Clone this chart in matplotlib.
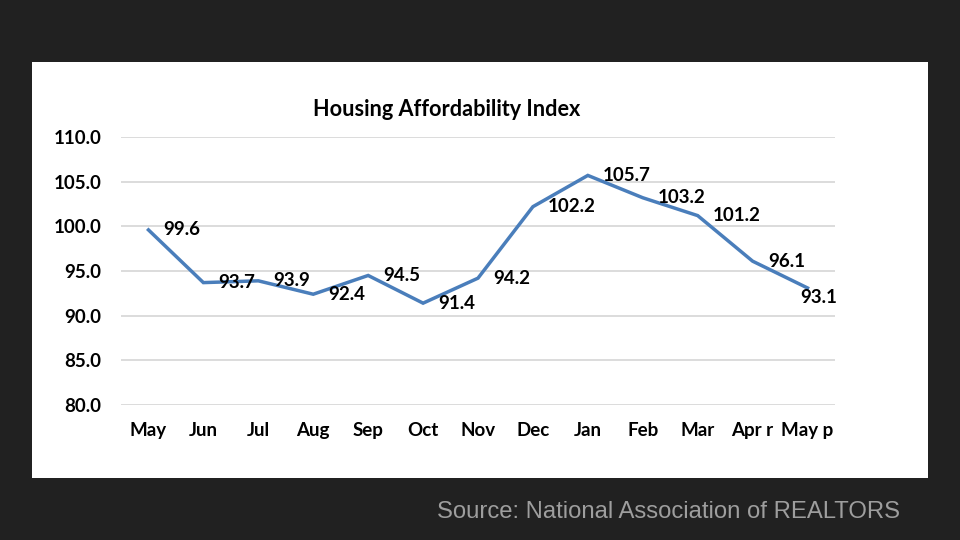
import matplotlib
matplotlib.use("Agg")
import matplotlib.pyplot as plt
from matplotlib.patches import Rectangle

months = ["May", "Jun", "Jul", "Aug", "Sep", "Oct", "Nov", "Dec", "Jan", "Feb", "Mar", "Apr r", "May p"]
index_values = [99.6, 93.7, 93.9, 92.4, 94.5, 91.4, 94.2, 102.2, 105.7, 103.2, 101.2, 96.1, 93.1]
y_ticks = [80, 85, 90, 95, 100, 105, 110]
title = "Housing Affordability Index"
source = "Source: National Association of REALTORS"

FONT = ["Lato", "DejaVu Sans"]
FS = 13.5

fig = plt.figure(figsize=(9.6, 5.4), dpi=100)
fig.patch.set_facecolor("#212121")
# white panel
fig.patches.append(Rectangle((32 / 960, 1 - 478 / 540), (928 - 32) / 960, (478 - 62) / 540,
                             transform=fig.transFigure, facecolor="white", edgecolor="none", zorder=-10))

ax = fig.add_axes([121 / 960, 1 - 405 / 540, (835 - 121) / 960, (405 - 137) / 540])
ax.set_zorder(1)
ax.set_facecolor("none")
x = list(range(len(months)))
ax.plot(x, index_values, color="#4A7EBB", linewidth=2.5, solid_joinstyle="miter", zorder=3)

ax.set_xlim(-0.5, len(months) - 0.5)
ax.set_ylim(80, 110)
ax.set_yticks(y_ticks)
ax.set_yticklabels([f"{v:.1f}" for v in y_ticks], fontfamily=FONT, fontweight="bold", fontsize=FS)
ax.set_xticks(x)
ax.set_xticklabels(months, fontfamily=FONT, fontweight="bold", fontsize=FS)
ax.tick_params(axis="both", length=0, colors="black")
ax.tick_params(axis="y", pad=14)
ax.tick_params(axis="x", pad=12)
ax.grid(axis="y", color="#d9d9d9", linewidth=1.3)
ax.set_axisbelow(True)
for s in ax.spines.values():
    s.set_visible(False)

for i, v in enumerate(index_values):
    if i == len(index_values) - 1:
        ax.annotate(f"{v:.1f}", (i, v), xytext=(-5, -7), textcoords="offset points",
                    ha="left", va="center", fontfamily=FONT, fontweight="bold", fontsize=FS)
    else:
        ax.annotate(f"{v:.1f}", (i, v), xytext=(11, 0), textcoords="offset points",
                    ha="left", va="center", fontfamily=FONT, fontweight="bold", fontsize=FS)

fig.text(447 / 960, 1 - 110 / 540, title, ha="center", va="center",
         fontfamily=FONT, fontweight="bold", fontsize=15.6, color="black")
fig.text(900 / 960, 1 - 512 / 540, source, ha="right", va="center",
         fontfamily=["Liberation Sans", "DejaVu Sans"], fontsize=17.2, color="#9e9e9e")

fig.savefig("out.png", dpi=100, facecolor=fig.get_facecolor())
